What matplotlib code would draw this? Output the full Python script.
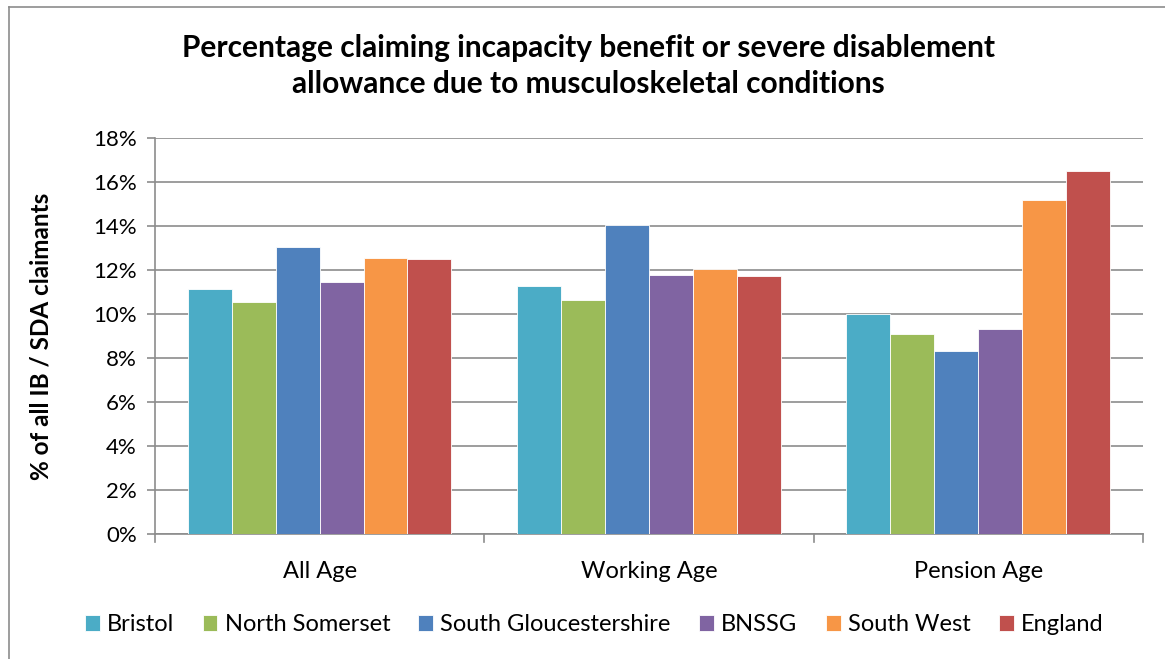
import numpy as np
import matplotlib
matplotlib.use("Agg")
import matplotlib.pyplot as plt
from matplotlib.lines import Line2D
from matplotlib.ticker import PercentFormatter

plt.rcParams['font.family'] = ['Lato', 'DejaVu Sans']

# Data (percent)
groups = ["All Age", "Working Age", "Pension Age"]
areas = ["Bristol", "North Somerset", "South Gloucestershire", "BNSSG", "South West", "England"]
bristol = [11.12, 11.27, 10.00]
north_somerset = [10.53, 10.65, 9.09]
south_glos = [13.03, 14.06, 8.33]
bnssg = [11.47, 11.79, 9.32]
south_west = [12.53, 12.06, 15.18]
england = [12.50, 11.74, 16.48]
colors = ["#4BACC6", "#9BBB59", "#4F81BD", "#8064A2", "#F79646", "#C0504D"]

series = [bristol, north_somerset, south_glos, bnssg, south_west, england]

fig = plt.figure(figsize=(11.65, 6.59), dpi=100)
ax = fig.add_axes([0.133, 0.189, 0.848, 0.602])

x = np.arange(len(groups))
bar_w = 0.8 / len(areas)
for i, (vals, name) in enumerate(zip(series, areas)):
    offs = (i - (len(areas) - 1) / 2) * bar_w
    ax.bar(x + offs, vals, width=bar_w, color=colors[i], label=name,
           edgecolor="white", linewidth=0.6, zorder=3)

ax.set_xlim(-0.5, len(groups) - 0.5)
ax.set_ylim(0, 18)
ax.set_yticks(np.arange(0, 19, 2))
ax.yaxis.set_major_formatter(PercentFormatter(decimals=0))
ax.grid(axis="y", color="#8c8c8c", linewidth=1.2, zorder=0)

# category ticks between groups like Excel
ax.set_xticks(x)
ax.set_xticklabels(groups, fontsize=17)
ax.tick_params(axis="x", length=0, pad=19)
for b in np.arange(-0.5, len(groups), 1):
    ax.plot([b, b], [0, -0.35], color="#8c8c8c", lw=1.2, clip_on=False, zorder=4)
ax.tick_params(axis="y", labelsize=16, length=6, color="#8c8c8c", width=1.2, pad=7)

for s in ["top", "right"]:
    ax.spines[s].set_visible(False)
for s in ["left", "bottom"]:
    ax.spines[s].set_color("#8c8c8c")
    ax.spines[s].set_linewidth(1.2)

ax.set_ylabel("% of all IB / SDA claimants", fontsize=17.5, fontweight="bold")
ax.yaxis.set_label_coords(-0.104, 0.5)

fig.text(0.505, 0.9, "Percentage claiming incapacity benefit or severe disablement\nallowance due to musculoskeletal conditions",
         ha="center", va="center", fontsize=21.5, fontweight="bold", linespacing=1.38)

handles, labels = ax.get_legend_handles_labels()
fig.legend(handles, labels, loc="center", bbox_to_anchor=(0.51, 0.052), ncol=6,
           frameon=False, fontsize=17, handlelength=0.63, handleheight=0.63,
           handletextpad=0.3, columnspacing=1.2)

# outer chart frame (left and top edges visible)
fig.add_artist(Line2D([9 / 1165, 9 / 1165], [0, 1 - 7 / 659], color="#8c8c8c", lw=1.2,
                      transform=fig.transFigure))
fig.add_artist(Line2D([9 / 1165, 1], [1 - 7 / 659, 1 - 7 / 659], color="#8c8c8c", lw=1.2,
                      transform=fig.transFigure))

fig.savefig("out.png", dpi=100)
